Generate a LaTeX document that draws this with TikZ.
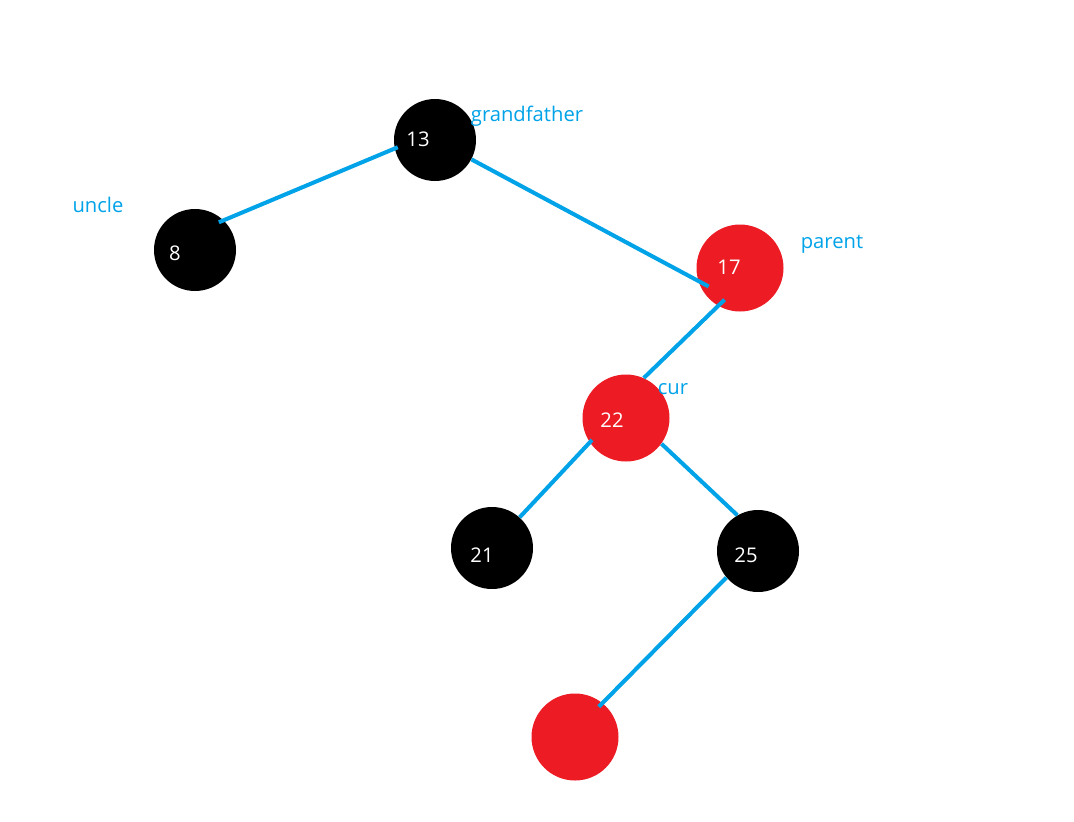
\documentclass[tikz,border=0pt]{standalone}
\usepackage{fontspec}
\setsansfont{Open Sans}
\definecolor{rbred}{RGB}{237,28,36}
\definecolor{rbblue}{RGB}{0,162,232}

\begin{document}
\begin{tikzpicture}[font=\sffamily,
  blk/.style={circle,fill=black,minimum size=1.64cm,inner sep=0pt},
  rd/.style={circle,fill=rbred,minimum size=1.74cm,inner sep=0pt},
  num/.style={text=white,font=\sffamily\fontsize{11.5}{13}\selectfont},
  tag/.style={text=rbblue,font=\sffamily\fontsize{11.5}{13}\selectfont},
  link/.style={draw=rbblue,line width=2.3pt}]

\useasboundingbox (0,0) rectangle (21.48,-16.42);

\node[blk] (n13) at (8.70,-2.80) {};
\node[blk] (n8) at (3.90,-5.00) {};
\node[rd] (n17) at (14.80,-5.36) {};
\node[rd] (n22) at (12.52,-8.36) {};
\node[blk] (n21) at (9.84,-10.96) {};
\node[blk] (n25) at (15.16,-11.02) {};
\node[rd] (nleaf) at (11.50,-14.74) {};

\node[num] at (8.36,-2.78) {13};
\node[num] at (3.50,-5.06) {8};
\node[num] at (14.58,-5.34) {17};
\node[num] at (12.24,-8.40) {22};
\node[num] at (9.64,-11.10) {21};
\node[num] at (14.92,-11.10) {25};

\node[tag] (tgrand) at (10.54,-2.32) {grandfather};
\node[tag] (tuncle) at (1.96,-4.10) {uncle};
\node[tag] (tparent) at (16.64,-4.88) {parent};
\node[tag] (tcur) at (13.46,-7.78) {cur};

\draw[link,shorten <=-2pt,shorten >=-3pt] (n13.192) -- (n8.46);
\draw[link,shorten >=-0.24cm] (n13.-28) -- (n17.197);
\draw[link,shorten <=-0.18cm] (n17.240) -- (n22.66);
\draw[link,shorten <=-2pt] (n22.214) -- (n21.48);
\draw[link] (n22.-36) -- (n25.120);
\draw[link,shorten >=-3pt] (n25.220) -- (nleaf.51);

\end{tikzpicture}
\end{document}
